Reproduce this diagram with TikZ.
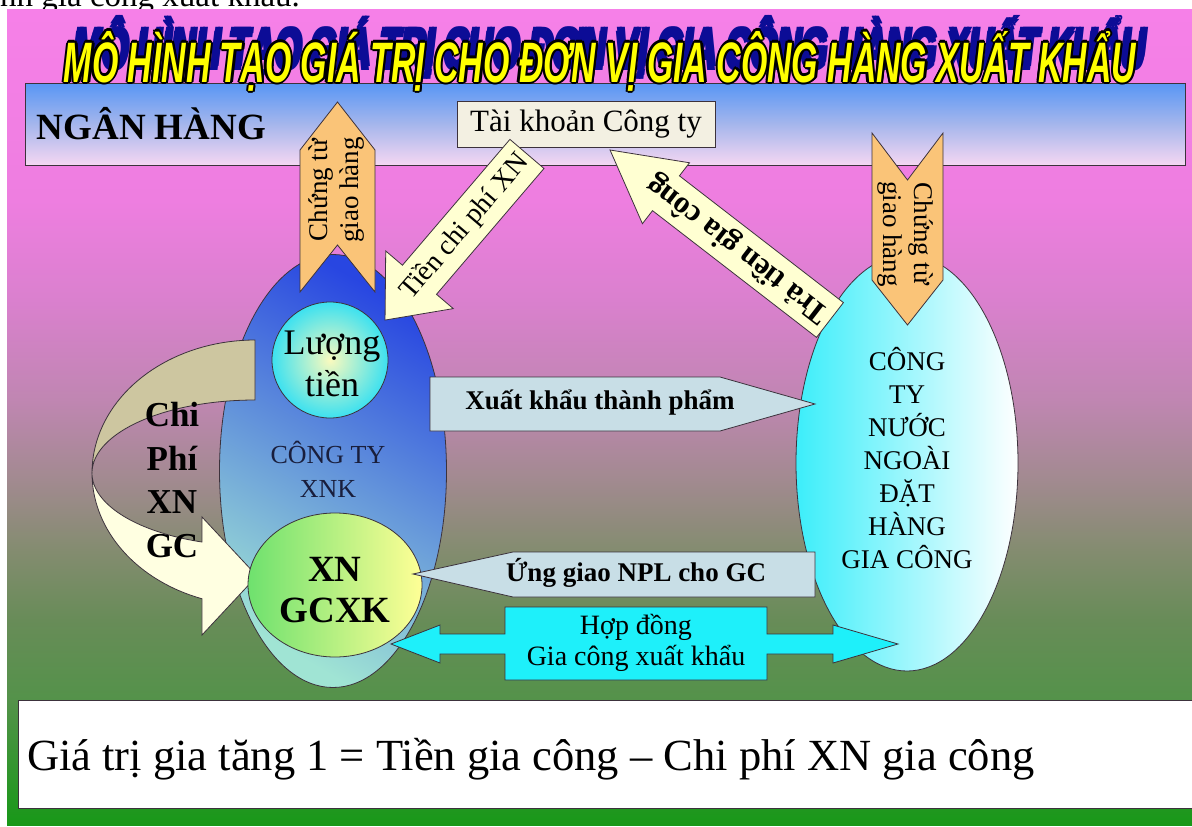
\documentclass[tikz,border=0pt]{standalone}
\usepackage{fontspec}
\usepackage{graphicx}
\setmainfont{Liberation Serif}
\newfontfamily\titlefont{Liberation Sans}
\usetikzlibrary{shapes.geometric}

\definecolor{bgTop}{RGB}{246,128,232}
\definecolor{bgPink}{RGB}{238,126,224}
\definecolor{bgMauve}{RGB}{218,128,206}
\definecolor{bgLilac}{RGB}{192,134,178}
\definecolor{bgDusk}{RGB}{162,138,144}
\definecolor{bgGrey}{RGB}{132,140,112}
\definecolor{bgOlive}{RGB}{104,140,88}
\definecolor{bgMoss}{RGB}{84,146,74}
\definecolor{bgGreen}{RGB}{24,152,24}
\definecolor{edge}{RGB}{60,50,60}
\definecolor{bankTop}{RGB}{88,150,245}
\definecolor{bankMid}{RGB}{165,182,236}
\definecolor{bankBot}{RGB}{245,215,242}
\definecolor{cream}{RGB}{243,240,226}
\definecolor{chevOrange}{RGB}{250,196,120}
\definecolor{paleYellow}{RGB}{255,255,210}
\definecolor{steel}{RGB}{200,222,230}
\definecolor{aqua}{RGB}{30,240,250}
\definecolor{xnkBlue}{RGB}{40,70,225}
\definecolor{xnkLight}{RGB}{160,228,212}
\definecolor{xnkText}{RGB}{25,30,60}
\definecolor{nnCyan}{RGB}{60,238,250}
\definecolor{tienCore}{RGB}{250,250,190}
\definecolor{tienRim}{RGB}{60,225,240}
\definecolor{gcGreen}{RGB}{110,225,110}
\definecolor{gcYellow}{RGB}{255,255,150}
\definecolor{khaki}{RGB}{205,198,160}
\definecolor{paleCream}{RGB}{255,255,225}
\definecolor{shadowBlue}{RGB}{12,12,150}
\definecolor{titleYellow}{RGB}{255,255,0}

\pgfdeclareverticalshading{slidebg}{100bp}{%
  color(0bp)=(bgGreen); color(25bp)=(bgGreen); color(32.7bp)=(bgMoss);
  color(37.6bp)=(bgOlive); color(41.9bp)=(bgGrey); color(46.2bp)=(bgDusk);
  color(51.1bp)=(bgLilac); color(57.2bp)=(bgMauve); color(63.3bp)=(bgPink);
  color(75bp)=(bgTop); color(100bp)=(bgTop)}

\newcommand\slidetitle{\scalebox{0.594}[1]{MÔ HÌNH TẠO GIÁ TRỊ CHO ĐƠN VỊ GIA CÔNG HÀNG XUẤT KHẨU}}

\begin{document}
\begin{tikzpicture}[x=1pt, y=-1pt,
    box/.style={draw=edge, line width=0.8pt},
    lbl/.style={inner sep=0pt, align=center},
    titletext/.style={inner sep=0pt, anchor=base,
      font=\titlefont\bfseries\itshape\fontsize{57}{62}\selectfont}]
  \useasboundingbox (0,0) rectangle (1192,827);
  \clip (0,0) rectangle (1192,827);

  % end of the text line above the slide
  \node[lbl, anchor=base west, font=\fontsize{33}{36}\selectfont] (prevLine) at (0,6) {nh gia công xuất khẩu.};

  % slide background
  \shade[shading=slidebg] (7,9.5) rectangle (1192,825);

  % bank band
  \node[box, minimum width=1160pt, minimum height=82pt,
    top color=bankTop, bottom color=bankBot, middle color=bankMid] (nganHang) at (605,124) {};
  \node[lbl, anchor=west, font=\bfseries\fontsize{37}{40}\selectfont] (nganHangText)
    at ([xshift=12pt]nganHang.west) {NGÂN HÀNG};
  \node[box, fill=cream, minimum width=258pt, minimum height=46pt,
    font=\fontsize{31}{34}\selectfont] (taiKhoan) at (586,124) {Tài khoản Công ty};

  % title: blue shadow, black outline, yellow letters
  \foreach \dx/\dy in {8/-12, 10/-14, 12/-16, 9/-16, 11/-12}
    \node[titletext, text=shadowBlue] at ({600+\dx},{82+\dy}) {\slidetitle};
  \foreach \dx/\dy in {-2.2/0, 2.2/0, 0/-2.2, 0/2.2, -1.6/-1.6, 1.6/-1.6, -1.6/1.6, 1.6/1.6}
    \node[titletext] at ({600+\dx},{82+\dy}) {\slidetitle};
  \node[titletext, text=titleYellow] (title) at (600,82) {\slidetitle};

  % the two companies
  \node[box, ellipse, minimum width=227pt, minimum height=433pt,
    top color=xnkBlue, bottom color=xnkLight, shading angle=-30] (congTyXNK) at (333,471) {};
  \node[box, ellipse, minimum width=222pt, minimum height=416pt,
    left color=nnCyan, right color=white] (congTyNN) at (907,463) {};
  \node[lbl, text=xnkText, font=\fontsize{26}{34}\selectfont] (xnkText) at (328,469) {CÔNG TY\\XNK};
  \node[lbl, font=\fontsize{27}{33}\selectfont] (nnText) at (907,458)
    {CÔNG\\TY\\NƯỚC\\NGOÀI\\ĐẶT\\HÀNG\\GIA CÔNG};

  % curved cost arrow, back part then front part
  \filldraw[box, fill=khaki]
    plot[domain=-90:-180, samples=40] ({255+163*cos(\x)}, {473+133*sin(\x)})
    -- plot[domain=180:270, samples=40] ({255+163*cos(\x)}, {473+73*sin(\x)}) -- cycle;
  \filldraw[box, fill=paleCream]
    plot[domain=180:109, samples=40] ({255+163*cos(\x)}, {473+133*sin(\x)})
    -- (202,635) -- (257,576) -- (202,517) -- (202,542)
    -- plot[domain=109:180, samples=40] ({255+163*cos(\x)}, {473+73*sin(\x)}) -- cycle;

  % money and the processing unit
  \node[box, circle, minimum size=116pt, inner color=tienCore, outer color=tienRim] (luongTien) at (330,360) {};
  \node[box, ellipse, minimum width=174pt, minimum height=144pt,
    left color=gcGreen, right color=gcYellow] (xnGCXK) at (335,585) {};
  \node[lbl, font=\fontsize{36}{42}\selectfont] (luongTienText) at (332,364) {Lượng\\tiền};
  \node[lbl, font=\bfseries\fontsize{37}{41}\selectfont] (xnGCXKText) at (335,590) {XN\\GCXK};

  % delivery papers
  \filldraw[box, fill=chevOrange] (300,150) -- (337.5,102) -- (375,150) -- (375,292)
    -- (337.5,245) -- (300,292) -- cycle;
  \filldraw[box, fill=chevOrange] (872,133) -- (907.5,180) -- (943,133) -- (943,280)
    -- (907.5,325) -- (872,280) -- cycle;
  \node[lbl, rotate=90, font=\fontsize{27}{31}\selectfont] (chungTuL) at (337,190) {Chứng từ\\giao hàng};
  \node[lbl, rotate=-90, font=\fontsize{27}{31}\selectfont] (chungTuR) at (905,234) {Chứng từ\\giao hàng};

  % money flows through the account
  \begin{scope}[shift={(456,237)}, rotate=229.5]
    \filldraw[box, fill=paleYellow] (-109.25,-22.4) -- (56.25,-22.4) -- (56.25,-44.4) -- (109.25,0)
      -- (56.25,44.4) -- (56.25,22.4) -- (-109.25,22.4) -- cycle;
  \end{scope}
  \node[lbl, rotate=49.5, font=\fontsize{28}{30}\selectfont] (tienChiPhi) at (465,227) {Tiền chi phí XN};
  \begin{scope}[shift={(720,235)}, rotate=142.3]
    \filldraw[box, fill=paleYellow] (-139,-22) -- (68.3,-22) -- (68.3,-38.5) -- (139,0)
      -- (68.3,38.5) -- (68.3,22) -- (-139,22) -- cycle;
  \end{scope}
  \node[lbl, rotate=142.3, font=\bfseries\fontsize{31}{33}\selectfont] (traTien) at (738,249) {Trả tiền gia công};

  % goods flows
  \filldraw[box, fill=steel] (430,377) -- (720,377) -- (815,404) -- (720,431) -- (430,431) -- cycle;
  \node[lbl, font=\bfseries\fontsize{27}{30}\selectfont] (xuatKhau) at (600,403) {Xuất khẩu thành phẩm};
  \filldraw[box, fill=steel] (815,552) -- (815,597) -- (513,597) -- (413,574) -- (513,552) -- cycle;
  \node[lbl, font=\bfseries\fontsize{27}{30}\selectfont] (ungGiao) at (636,573) {Ứng giao NPL cho GC};

  % contract
  \filldraw[box, fill=aqua] (505,607) -- (767,607) -- (767,634) -- (833,634) -- (833,625) -- (898,644)
    -- (833,663) -- (833,654) -- (767,654) -- (767,680) -- (505,680) -- (505,654) -- (440,654)
    -- (440,663) -- (391,644) -- (440,625) -- (440,634) -- (505,634) -- cycle;
  \node[lbl, font=\fontsize{28}{31}\selectfont] (hopDong) at (636,643) {Hợp đồng\\Gia công xuất khẩu};

  \node[lbl, font=\bfseries\fontsize{35}{43.5}\selectfont] (chiPhi) at (172,480) {Chi\\Phí\\XN\\GC};

  % value added line
  \node[box, fill=white, minimum width=1182pt, minimum height=108pt, anchor=north west] (giaTriBox) at (18,700) {};
  \node[lbl, anchor=base west, font=\fontsize{44.5}{48}\selectfont] (giaTri) at (27,770)
    {Giá trị gia tăng 1 = Tiền gia công – Chi phí XN gia công};
\end{tikzpicture}
\end{document}
